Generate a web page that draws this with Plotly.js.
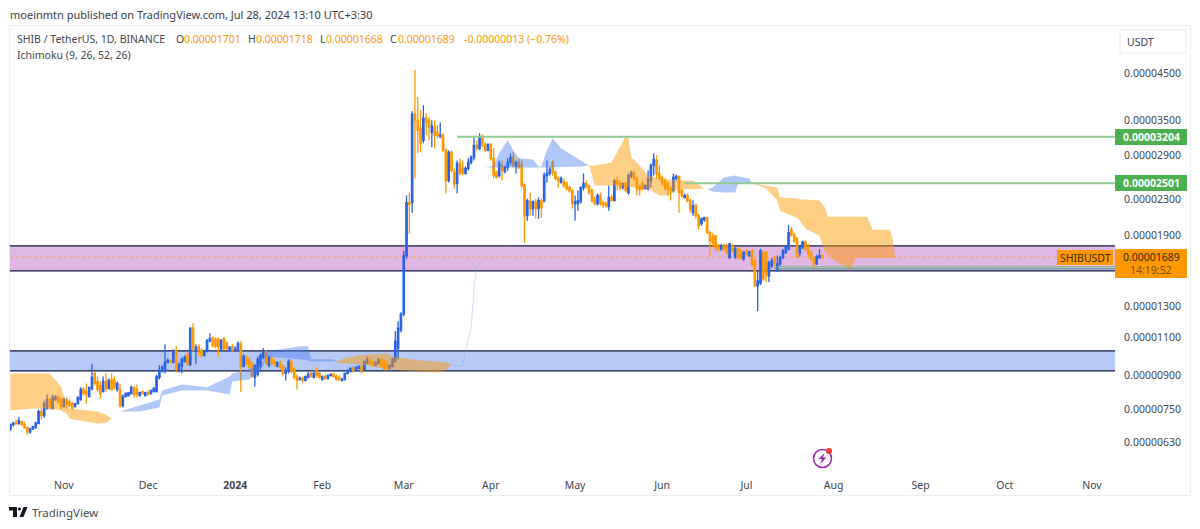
<!DOCTYPE html>
<html><head><meta charset="utf-8">
<script src="https://cdn.plot.ly/plotly-3.0.1.min.js"></script>
<style>html,body{margin:0;padding:0;background:#fff}#c{width:1200px;height:529px}</style></head>
<body><div id="c"></div>
<script>
// prices below are in units of 0.00000001 USDT
const UNIT = 1e-8;
const firstDay = Date.UTC(2023, 9, 13);
const open = [
676,691,698,695,702,691,680,665,676,680,
695,741,725,753,790,753,790,799,790,761,
790,781,773,761,773,790,834,824,803,838,
908,870,852,824,870,838,879,875,834,834,
765,803,807,816,843,834,807,824,807,820,
816,824,824,889,918,928,963,968,963,1027,
928,943,968,1005,953,1156,1021,1049,1027,1000,
1021,1078,1095,1089,1089,1033,1095,1066,1027,1049,
1033,1027,1061,943,989,979,958,889,903,943,
989,1016,948,984,968,943,963,943,908,918,
968,928,893,879,884,875,889,908,889,923,
908,879,893,884,898,903,893,889,875,879,
908,918,933,923,933,943,928,958,973,963,
948,958,979,968,953,933,943,968,1038,1144,
1245,1699,2256,2256,3614,3500,3353,3144,3537,3500,
3282,3371,3282,3213,3230,2980,2538,2949,2650,2498,
2780,2707,2636,2707,2795,2871,3061,3013,3196,3078,
2980,3078,2856,2650,2607,2750,2664,2721,2795,2871,
2736,2795,2750,2471,2104,2268,2185,2256,2185,2280,
2280,2607,2636,2795,2650,2566,2511,2525,2498,2445,
2406,2244,2244,2268,2445,2498,2458,2406,2306,2244,
2342,2256,2244,2208,2318,2280,2538,2498,2445,2498,
2381,2593,2636,2566,2458,2498,2432,2432,2538,2750,
2825,2636,2580,2538,2498,2432,2406,2566,2593,2406,
2318,2342,2280,2138,2220,2104,2017,2060,2082,1922,
1881,1891,1792,1763,1792,1792,1681,1792,1690,1763,
1745,1672,1745,1699,1745,1654,1447,1470,1727,1727,
1526,1610,1672,1568,1628,1681,1727,1763,1953,1901,
1861,1727,1782,1831,1763,1727,1672,1628,1681,1701];
const high = [
695,702,710,721,706,702,684,680,687,702,
749,753,785,812,794,812,807,807,799,799,
799,790,781,777,803,843,843,861,847,953,
918,893,870,893,908,884,908,893,870,861,
812,820,824,852,847,856,824,829,824,829,
834,843,903,948,948,1061,984,979,1033,1049,
963,989,1000,1016,1162,1186,1061,1061,1038,1027,
1089,1125,1107,1101,1101,1089,1101,1078,1049,1061,
1049,1078,1078,1005,1000,989,968,953,994,1010,
1038,1027,1000,994,979,968,973,953,938,979,
979,938,903,893,893,898,918,918,923,938,
918,898,903,903,908,913,903,898,889,913,
928,938,943,943,948,953,973,994,994,973,
968,984,989,979,963,953,989,1137,1199,1258,
1745,2342,2381,3672,4572,3958,3692,3792,3633,3556,
3500,3500,3407,3463,3265,3013,2980,2980,2707,2825,
2856,2825,2736,2856,2902,3196,3144,3265,3247,3111,
3094,3094,3013,2678,2825,2825,2750,2856,2933,2949,
2825,2856,2825,2498,2306,2381,2280,2306,2318,2306,
2650,2825,2736,2825,2678,2593,2593,2566,2525,2471,
2432,2342,2406,2458,2636,2538,2484,2432,2330,2368,
2381,2280,2268,2471,2355,2552,2593,2538,2511,2511,
2636,2678,2678,2593,2484,2538,2484,2678,2780,2933,
2902,2750,2607,2566,2525,2458,2636,2622,2607,2432,
2368,2368,2306,2280,2244,2127,2082,2093,2093,1942,
1922,1901,1811,1811,1811,1811,1821,1811,1782,1782,
1763,1745,1763,1745,1763,1672,1568,1763,1745,1745,
1654,1681,1699,1699,1699,1763,1792,2006,1984,1922,
1881,1792,1841,1851,1811,1745,1690,1708,1763,1718];
const low = [
669,684,691,691,687,676,655,658,672,676,
695,710,717,749,749,749,785,773,749,757,
753,757,749,757,769,785,807,773,799,829,
852,824,794,820,824,834,829,834,824,757,
757,799,803,812,799,799,803,812,803,807,
812,820,820,879,913,908,958,958,958,913,
913,908,963,943,943,1021,953,1000,989,994,
1016,1072,1044,1038,994,1021,1027,1027,1021,1021,
1021,1021,824,938,948,928,889,847,893,928,
979,948,938,948,943,938,928,898,875,908,
908,879,834,875,865,870,884,889,884,889,
884,875,879,879,893,889,875,875,870,875,
903,913,913,918,928,908,923,953,953,943,
943,953,938,923,923,928,938,963,979,1131,
1232,1672,1911,2138,2566,2933,2949,3094,3230,3144,
3029,3013,3180,3180,2949,2368,2511,2650,2432,2368,
2607,2607,2622,2678,2765,2825,2980,2980,3029,2949,
2965,2825,2566,2566,2580,2538,2636,2678,2750,2721,
2636,2693,2445,1821,2049,2104,2104,2071,2071,2082,
2256,2511,2607,2607,2538,2445,2498,2445,2406,2381,
2185,2049,2161,2244,2406,2432,2355,2256,2220,2220,
2220,2196,2196,2161,2268,2268,2406,2406,2419,2381,
2355,2566,2538,2342,2342,2406,2419,2406,2445,2607,
2566,2538,2471,2406,2342,2280,2381,2538,2138,2318,
2306,2256,2138,2104,2071,1953,1995,2038,1911,1699,
1782,1745,1736,1745,1745,1708,1672,1727,1672,1672,
1663,1654,1699,1690,1602,1440,1265,1455,1486,1478,
1478,1593,1610,1559,1610,1672,1717,1745,1881,1821,
1672,1690,1763,1745,1681,1654,1585,1619,1672,1668];
const close = [
691,698,695,706,691,680,665,676,684,698,
741,725,773,790,761,799,803,781,761,790,
769,765,753,773,799,834,816,816,843,889,
861,834,816,870,838,875,834,843,861,765,
803,816,820,843,812,812,820,816,820,812,
829,838,893,923,938,963,973,963,1021,928,
953,979,989,953,1156,1038,1044,1027,1000,1021,
1084,1095,1055,1049,1049,1084,1038,1038,1044,1027,
1038,1066,943,994,958,938,893,948,979,1000,
1021,958,989,958,953,963,938,908,923,968,
918,889,875,884,875,893,903,893,908,898,
889,893,884,898,903,893,879,879,879,908,
923,933,923,938,943,923,968,979,958,948,
963,979,948,933,933,948,979,1078,1156,1245,
1699,2256,2232,3614,3500,3317,3094,3537,3463,3371,
3389,3230,3230,3230,2980,2538,2949,2678,2498,2780,
2636,2636,2707,2795,2871,3061,3013,3196,3061,2980,
3078,2856,2607,2580,2780,2678,2721,2795,2871,2750,
2795,2721,2471,2104,2280,2185,2268,2185,2280,2196,
2607,2636,2693,2650,2566,2538,2566,2471,2432,2406,
2244,2268,2280,2445,2498,2458,2381,2280,2244,2342,
2244,2232,2220,2318,2280,2538,2498,2445,2498,2406,
2607,2650,2566,2432,2419,2432,2471,2566,2750,2840,
2636,2566,2498,2432,2432,2406,2580,2593,2381,2342,
2342,2280,2173,2220,2104,1995,2071,2082,1922,1841,
1821,1773,1763,1792,1763,1727,1811,1745,1763,1681,
1681,1727,1717,1736,1619,1447,1486,1745,1502,1535,
1637,1654,1628,1628,1681,1745,1782,1922,1901,1841,
1699,1782,1831,1763,1727,1672,1628,1690,1701,1689];

// Ichimoku cloud pieces, each: dates, upper edge, lower edge
const cloudO1Dates = ['2023-10-13','2023-10-21','2023-10-27','2023-10-31','2023-11-01','2023-11-02','2023-11-03','2023-11-13','2023-11-16','2023-11-18'];
const cloudO1Top = [908,908,908,847,808,761,753,741,729,713];
const cloudO1Bot = [745,753,753,745,738,733,713,695,698,713];
const cloudB1Dates = ['2023-11-21','2023-11-28','2023-12-05','2023-12-06','2023-12-13','2023-12-22','2023-12-30','2023-12-31','2024-01-06','2024-01-11','2024-01-12','2024-01-24','2024-01-27','2024-01-28','2024-02-05','2024-02-06'];
const cloudB1Top = [741,765,790,829,856,843,893,908,928,968,1021,1049,1049,979,979,968];
const cloudB1Bot = [741,741,757,807,829,829,812,870,879,943,994,979,973,968,968,968];
const cloudO2Dates = ['2024-02-06','2024-02-09','2024-02-14','2024-02-20','2024-02-24','2024-02-26','2024-03-07','2024-03-13','2024-03-16','2024-03-18'];
const cloudO2Top = [968,984,1000,1005,1010,994,973,968,963,953];
const cloudO2Bot = [963,958,953,938,928,923,918,913,923,953];
const spanTailDates = ['2024-03-19','2024-03-22','2024-03-23','2024-03-25','2024-03-26','2024-03-27','2024-03-29'];
const spanTailValues = [943,948,1021,1168,1408,1610,1654];
const cloudB2Dates = ['2024-03-30','2024-04-02','2024-04-04','2024-04-07','2024-04-09','2024-04-11','2024-04-16','2024-04-18','2024-04-19','2024-04-21','2024-04-23','2024-04-26','2024-05-03','2024-05-06'];
const cloudB2Top = [2721,2750,2933,3144,2980,2856,2840,2736,2736,2980,3178,3013,2825,2750];
const cloudB2Bot = [2721,2721,2721,2721,2721,2721,2721,2721,2721,2721,2721,2721,2736,2750];
const cloudO3Dates = ['2024-05-06','2024-05-08','2024-05-14','2024-05-17','2024-05-19','2024-05-20','2024-05-21','2024-05-23','2024-05-27','2024-05-31','2024-06-03','2024-06-07','2024-06-12','2024-06-16'];
const cloudO3Top = [2750,2750,2795,3029,3213,3178,2871,2795,2607,2566,2552,2538,2538,2432];
const cloudO3Bot = [2750,2471,2471,2458,2458,2458,2445,2445,2432,2342,2342,2432,2419,2432];
const cloudB3Dates = ['2024-06-17','2024-06-19','2024-06-23','2024-06-27','2024-06-28','2024-07-02','2024-07-03'];
const cloudB3Top = [2419,2445,2580,2607,2593,2566,2498];
const cloudB3Bot = [2419,2393,2381,2381,2498,2498,2498];
const cloudO4Dates = ['2024-07-03','2024-07-08','2024-07-12','2024-07-13','2024-07-19','2024-07-20','2024-07-22','2024-07-27','2024-07-29','2024-07-30','2024-07-31','2024-08-07','2024-08-09','2024-08-13','2024-08-15','2024-08-21','2024-08-22','2024-08-23'];
const cloudO4Top = [2498,2471,2445,2318,2306,2293,2293,2280,2196,2093,2093,2093,2093,2093,1953,1953,1871,1681];
const cloudO4Bot = [2498,2432,2280,2161,2082,2049,1963,1891,1727,1708,1681,1568,1681,1681,1681,1681,1681,1681];

const purpleZone = [1568,1792];
const blueZone = [920,1024];
const resistance1 = 3204, resistance1From = '2024-03-20';
const resistance2 = 2501, resistance2From = '2024-06-09';
const support1 = 1602, support2 = 1585, supportFrom = '2024-07-11';
const lastPrice = 1689;

const priceTicks = [4500,3500,2900,2300,1900,1300,1100,900,750,630];
const priceTickText = ['0.00004500','0.00003500','0.00002900','0.00002300','0.00001900','0.00001300','0.00001100','0.00000900','0.00000750','0.00000630'];
const monthTicks = ['2023-11-01','2023-12-01','2024-01-01','2024-02-01','2024-03-01','2024-04-01','2024-05-01','2024-06-01','2024-07-01','2024-08-01','2024-09-01','2024-10-01','2024-11-01'];
const monthText = ['Nov','Dec','<b>2024</b>','Feb','Mar','Apr','May','Jun','Jul','Aug','Sep','Oct','Nov'];

const FONT = '"Noto Sans", sans-serif';
const TXT = '#43464f', ORG = '#ff9800', BLU = '#2962e8';
const P = v => v * UNIT;
const dates = open.map((_, i) => new Date(firstDay + i * 86400000).toISOString().slice(0, 10));
const X = px => (px - 10) / 1105, Y = py => (470 - py) / 445;

function cloud(d, top, bot, color) {
  return {type:'scatter', mode:'lines', x:d.concat(d.slice().reverse()),
    y:top.concat(bot.slice().reverse()).map(P), fill:'toself', fillcolor:color,
    line:{width:0,color:color}, hoverinfo:'skip', showlegend:false};
}
const CO = 'rgba(255,152,0,0.48)', CB = 'rgba(66,125,235,0.42)';
const traces = [
  cloud(cloudO1Dates, cloudO1Top, cloudO1Bot, CO),
  cloud(cloudB1Dates, cloudB1Top, cloudB1Bot, CB),
  cloud(cloudO2Dates, cloudO2Top, cloudO2Bot, CO),
  {type:'scatter',mode:'lines',x:spanTailDates,y:spanTailValues.map(P),line:{color:'rgba(120,160,235,0.35)',width:1},hoverinfo:'skip',showlegend:false},
  cloud(cloudB2Dates, cloudB2Top, cloudB2Bot, CB),
  cloud(cloudO3Dates, cloudO3Top, cloudO3Bot, CO),
  cloud(cloudB3Dates, cloudB3Top, cloudB3Bot, CB),
  cloud(cloudO4Dates, cloudO4Top, cloudO4Bot, CO),
  {type:'candlestick', x:dates, open:open.map(P), high:high.map(P), low:low.map(P), close:close.map(P),
   increasing:{line:{color:BLU,width:1.3},fillcolor:BLU}, decreasing:{line:{color:ORG,width:1.3},fillcolor:ORG},
   whiskerwidth:0, hoverinfo:'skip', showlegend:false}
];

const hline = (v, from, color, w) => ({type:'line', xref:from?'x':'paper', yref:'y', x0:from||0, x1:from?'2024-11-09 05:00':1,
   y0:P(v), y1:P(v), line:{color:color,width:w||2}, layer:'above'});
const pxRect = (x0,y0,x1,y1,o) => Object.assign({type:'rect',xref:'paper',yref:'paper',x0:X(x0),x1:X(x1),y0:Y(y0),y1:Y(y1)},o);
const pxPath = (pts,o) => Object.assign({type:'path',xref:'paper',yref:'paper',
  path:pts.map((p,i)=>(i?'L':'M')+X(p[0])+' '+Y(p[1])).join(' ')+(o.open?'':' Z')},o.s);
const FRAME = '#eceef3', NAVY = '#0f1a45';
const zoneEdge = v => ({type:'line',xref:'paper',yref:'y',x0:0,x1:1,y0:P(v),y1:P(v),line:{color:NAVY,width:1.2},layer:'below'});

const shapes = [
  {type:'rect',xref:'paper',yref:'y',x0:0,x1:1,y0:P(purpleZone[0]),y1:P(purpleZone[1]),fillcolor:'#e0b6e3',line:{width:0},layer:'below'},
  {type:'rect',xref:'paper',yref:'y',x0:0,x1:1,y0:P(blueZone[0]),y1:P(blueZone[1]),fillcolor:'#b7c9f7',line:{width:0},layer:'below'},
  zoneEdge(purpleZone[0]), zoneEdge(purpleZone[1]), zoneEdge(blueZone[0]), zoneEdge(blueZone[1]),
  {type:'line',xref:'paper',yref:'y',x0:0,x1:1,y0:P(lastPrice),y1:P(lastPrice),line:{color:'rgba(255,152,0,0.5)',width:1,dash:'dot'},layer:'below'},
  hline(resistance1,resistance1From,'#92cc95'),
  hline(resistance2,resistance2From,'#92cc95'),
  hline(support1,supportFrom,'#6fb672',1),
  hline(support2,supportFrom,'#3d9c8c',1),
  // chart frame
  pxRect(9.5,25.5,1190.5,495.5,{line:{color:FRAME,width:1},fillcolor:'rgba(0,0,0,0)',layer:'below'}),
  // currency button
  pxRect(1120,30,1186,53,{line:{color:'#e9ebf1',width:1},fillcolor:'#fff'}),
  // price tags
  pxRect(1115,129,1187,145,{line:{width:0},fillcolor:'#4caf50'}),
  pxRect(1115,175,1187,191,{line:{width:0},fillcolor:'#4caf50'}),
  pxRect(1115,249,1187,278,{line:{width:0},fillcolor:ORG}),
  pxRect(1057,250,1113,265,{line:{width:0},fillcolor:ORG}),
  // TradingView mark
  pxPath([[9,507],[17,507],[17,517],[13,517],[13,510.5],[9,510.5]],{s:{fillcolor:'#131722',line:{width:0}}}),
  {type:'circle',xref:'paper',yref:'paper',x0:X(17.8),x1:X(21),y0:Y(507.4),y1:Y(510.6),fillcolor:'#131722',line:{width:0}},
  pxPath([[19.5,517],[23.5,517],[27.5,507],[23.5,507]],{s:{fillcolor:'#131722',line:{width:0}}}),
  // snapshot icon
  {type:'circle',xref:'paper',yref:'paper',x0:X(813.5),x1:X(831.5),y0:Y(449.5),y1:Y(467.5),fillcolor:'rgba(0,0,0,0)',line:{color:'#9c27b0',width:1.5}},
  {type:'circle',xref:'paper',yref:'paper',x0:X(826),x1:X(832),y0:Y(448),y1:Y(454),fillcolor:'#ef3b3b',line:{width:0}},
  pxPath([[824.5,453],[818.5,459],[822,459],[820,464],[826.5,457.5],[823,457.5]],{s:{fillcolor:'#9c27b0',line:{width:0}}})
];

function ann(px, py, text, o) {
  return Object.assign({xref:'paper',yref:'paper',x:X(px),y:Y(py),text:text,showarrow:false,xanchor:'left',yanchor:'middle',
    borderpad:0,borderwidth:0,font:{family:FONT,size:10.5,color:TXT}}, o||{});
}
const orange = {font:{family:FONT,size:10.5,color:ORG}};
const annotations = [
  ann(10,14,'moeinmtn published on TradingView.com, Jul 28, 2024 13:10 UTC+3:30',{font:{family:FONT,size:11,color:'#3a3d46'}}),
  ann(17,39,'SHIB / TetherUS, 1D, BINANCE'),
  ann(176,39,'O'), ann(184,39,'0.00001701',orange),
  ann(248,39,'H'), ann(256,39,'0.00001718',orange),
  ann(320,39,'L'), ann(326,39,'0.00001668',orange),
  ann(390,39,'C'), ann(398,39,'0.00001689',orange),
  ann(464,39,'-0.00000013 (−0.76%)',orange),
  ann(17,55,'Ichimoku (9, 26, 52, 26)'),
  ann(1127,42,'USDT'),
  ann(1151,137,'<b>0.00003204</b>',{xanchor:'center',font:{family:FONT,size:10.5,color:'#fff'}}),
  ann(1151,183,'<b>0.00002501</b>',{xanchor:'center',font:{family:FONT,size:10.5,color:'#fff'}}),
  ann(1151,257,'0.00001689',{xanchor:'center',font:{family:FONT,size:10.5,color:'#3a2a00'}}),
  ann(1151,270,'14:19:52',{xanchor:'center',font:{family:FONT,size:10.5,color:'#7a4d00'}}),
  ann(1085,258,'SHIBUSDT',{xanchor:'center',font:{family:FONT,size:10.5,color:'#3a2a00'}}),
  ann(32,512,'TradingView',{font:{family:FONT,size:11.5,color:'#4a4e5a'}})
];

const layout = {
  width:1200, height:529, paper_bgcolor:'#fff', plot_bgcolor:'#fff',
  margin:{l:10,r:85,t:25,b:59,pad:0}, showlegend:false,
  font:{family:FONT,size:10.5,color:TXT},
  xaxis:{type:'date', range:['2023-10-12 20:00','2024-11-09 05:00'], rangeslider:{visible:false},
    tickmode:'array', tickvals:monthTicks, ticktext:monthText, showgrid:false, zeroline:false, showline:false,
    ticks:'outside', ticklen:5, tickcolor:'rgba(0,0,0,0)', tickfont:{family:FONT,size:10.5,color:TXT}},
  yaxis:{type:'log', side:'right', range:[-5.26535,-4.23573], tickmode:'array', tickvals:priceTicks.map(P), ticktext:priceTickText,
    showgrid:false, zeroline:false, showline:false, ticks:'outside', ticklen:6, tickcolor:'rgba(0,0,0,0)', automargin:false,
    tickfont:{family:FONT,size:10.5,color:TXT}},
  shapes:shapes, annotations:annotations
};
Plotly.newPlot('c', traces, layout, {displayModeBar:false, staticPlot:true});
</script></body></html>
